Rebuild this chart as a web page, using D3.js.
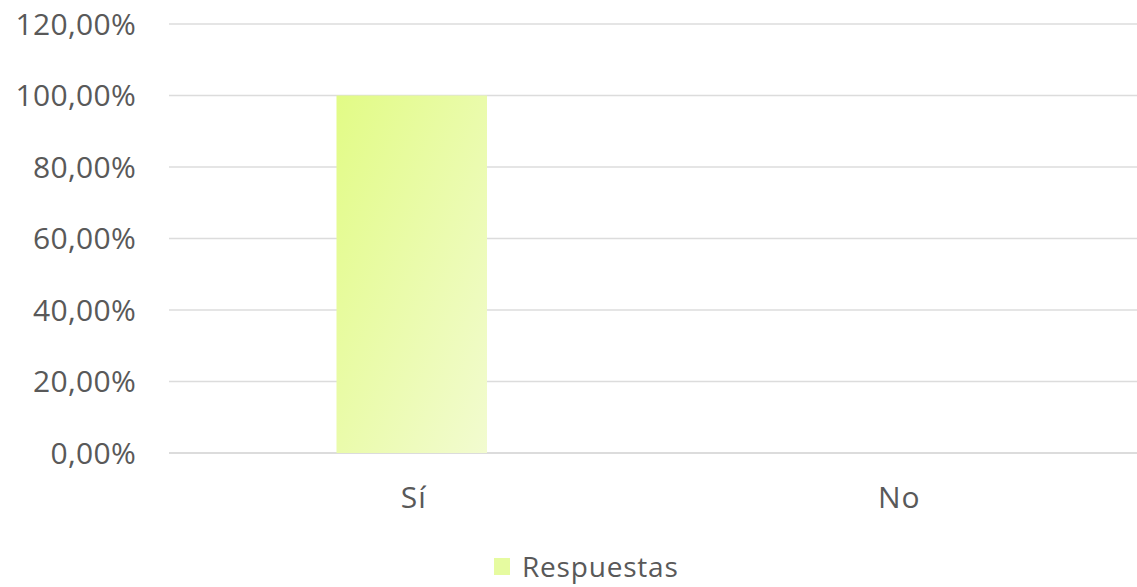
<!DOCTYPE html>
<html><head><meta charset="utf-8">
<script src="https://cdn.jsdelivr.net/npm/d3@7"></script>
<style>body{margin:0;background:#fff}svg{display:block}text{font-family:"Open Sans","Liberation Sans",sans-serif;fill:#595959}</style>
</head><body><svg id="c" width="1137" height="587"></svg>
<script>
const categories = ["Sí", "No"];
const values = [100, 0];
const yTicks = [0, 20, 40, 60, 80, 100, 120];
const seriesName = "Respuestas";

(function(){
const svg = d3.select("#c");
const pLeft = 169, pRight = 1140, pTop = 24, pBottom = 453;
const x = d3.scaleBand().domain(categories).range([pLeft, pRight]).paddingInner(0.69).paddingOuter(0.345);
const y = d3.scaleLinear().domain([0, 120]).range([pBottom, pTop]);

const defs = svg.append("defs");
const g = defs.append("linearGradient").attr("id","gr").attr("x1","0").attr("y1","0").attr("x2","1").attr("y2","1");
g.append("stop").attr("offset","0").attr("stop-color","#e2fb86");
g.append("stop").attr("offset","1").attr("stop-color","#f2fbd0");

svg.append("g").selectAll("line").data(yTicks).join("line")
  .attr("x1", pLeft).attr("x2", pRight).attr("y1", d=>y(d)).attr("y2", d=>y(d))
  .attr("stroke", d=> d===0 ? "#d0d0d0" : "#dcdcdc").attr("stroke-width", 1.5);

svg.append("g").selectAll("text").data(yTicks).join("text")
  .attr("x", 136).attr("y", d=>y(d)).attr("dy","0.36em").attr("text-anchor","end")
  .attr("font-size", 30).attr("letter-spacing", 0.3)
  .text(d => d3.format(".2f")(d).replace(".", ",") + "%");

svg.append("g").selectAll("rect").data(values).join("rect")
  .attr("x", (d,i)=>x(categories[i])).attr("width", x.bandwidth())
  .attr("y", d=>y(d)).attr("height", d=>pBottom - y(d)).attr("fill","url(#gr)");

svg.append("g").selectAll("text").data(categories).join("text")
  .attr("x", d=>x(d)+x.bandwidth()/2 + 2).attr("y", 508).attr("text-anchor","middle")
  .attr("font-size", 30).attr("letter-spacing", 1).text(d=>d);

svg.append("rect").attr("x", 494).attr("y", 558).attr("width", 16).attr("height", 17).attr("fill","#e6fba0");
svg.append("text").attr("x", 522).attr("y", 577).attr("font-size", 28).attr("letter-spacing", 0.8).text(seriesName);
})();
</script></body></html>
